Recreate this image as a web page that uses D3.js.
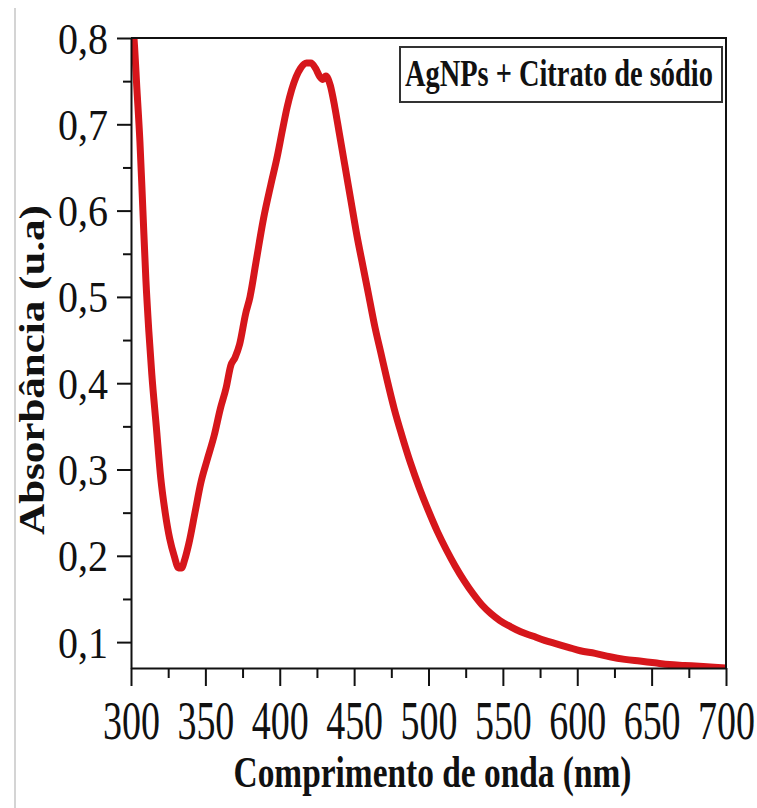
<!DOCTYPE html>
<meta charset="utf-8">
<style>
body { margin: 0; background: #fff; }
text { font-family: "Liberation Serif", "Times New Roman", serif; fill: #111; }
</style>
<body>
<script src="https://d3js.org/d3.v7.min.js"></script>
<script>

// spectrum (nm, absorbance)
var wavelength = [300, 302, 304, 306, 308, 310, 312, 314, 317, 320, 323, 326, 329, 332, 334,
    336, 339, 343, 347, 351, 356, 360, 364, 367, 370, 373, 377, 380, 384, 389, 394, 398,
    402, 405, 408, 411, 414, 418, 421, 424, 427, 429, 431, 434, 437, 440, 444, 448, 452,
    456, 460, 464, 468, 472, 477, 482, 488, 494, 500, 506, 512, 518, 524, 530, 536, 542,
    548, 555, 562, 570, 578, 586, 594, 602, 612, 622, 632, 642, 652, 662, 672, 682, 692, 700];
var absorbance = [0.83, 0.80, 0.74, 0.68, 0.60, 0.52, 0.46, 0.41, 0.35, 0.29, 0.25, 0.22, 0.20, 0.186, 0.186,
    0.195, 0.215, 0.25, 0.285, 0.31, 0.34, 0.37, 0.395, 0.42, 0.43, 0.445, 0.48, 0.50, 0.54, 0.59, 0.63, 0.66,
    0.695, 0.72, 0.74, 0.755, 0.765, 0.771, 0.771, 0.765, 0.755, 0.752, 0.756, 0.745, 0.72, 0.69, 0.65, 0.61, 0.57,
    0.535, 0.50, 0.465, 0.435, 0.405, 0.37, 0.34, 0.307, 0.278, 0.252, 0.228, 0.207, 0.188, 0.171, 0.156, 0.143, 0.133,
    0.125, 0.118, 0.112, 0.107, 0.102, 0.098, 0.094, 0.090, 0.087, 0.083, 0.080, 0.078, 0.076, 0.074, 0.073, 0.072, 0.071, 0.070];

var xTickValues = [300, 350, 400, 450, 500, 550, 600, 650, 700];
var yTickValues = [0.1, 0.2, 0.3, 0.4, 0.5, 0.6, 0.7, 0.8];
var legendLabel = "AgNPs + Citrato de sódio";
var xTitle = "Comprimento de onda (nm)";
var yTitle = "Absorbância (u.a)";

var margin = {top: 38, right: 31, bottom: 140, left: 131},
    width = 757 - margin.left - margin.right,
    height = 808 - margin.top - margin.bottom;

var x = d3.scaleLinear().domain([300, 700]).range([0, width]);
var y = d3.scaleLinear().domain([0.07, 0.8]).range([height, 0]);

var fmt = d3.formatLocale({decimal: ",", thousands: ".", grouping: [3], currency: ["", ""]}).format(".1f");

// squeeze a text horizontally so it is `w` px long; `pre` is the transform before the scale
function fit(t, w, pre) {
    var len = t.node().getComputedTextLength();
    t.attr("transform", (pre || "") + " scale(" + (w / len) + ",1)");
}

var root = d3.select("body").append("svg")
    .attr("width", 757)
    .attr("height", 808);

// faint page edge on the left
root.append("line")
    .attr("x1", 15).attr("x2", 15).attr("y1", 8).attr("y2", 808)
    .attr("stroke", "#d4d4d4").attr("stroke-width", 2);

var svg = root.append("g")
    .attr("transform", "translate(" + margin.left + "," + margin.top + ")");

svg.append("clipPath").attr("id", "plot")
    .append("rect").attr("width", width).attr("height", height);

// curve
var line = d3.line()
    .x(function(d, i) { return x(wavelength[i]); })
    .y(function(d) { return y(d); })
    .curve(d3.curveMonotoneX);

svg.append("path")
    .datum(absorbance)
    .attr("clip-path", "url(#plot)")
    .attr("fill", "none")
    .attr("stroke", "#d6161b")
    .attr("stroke-width", 7)
    .attr("stroke-linejoin", "round")
    .attr("d", line);

// minor ticks
svg.append("g")
    .attr("transform", "translate(0," + height + ")")
    .call(d3.axisBottom(x).tickValues(d3.range(325, 700, 50)).tickSize(10).tickFormat(""))
    .call(function(g) { g.select(".domain").remove(); });
svg.append("g")
    .call(d3.axisLeft(y).tickValues(d3.range(0.15, 0.8, 0.1)).tickSize(8).tickFormat(""))
    .call(function(g) { g.select(".domain").remove(); });

// x axis
var gx = svg.append("g")
    .attr("transform", "translate(0," + height + ")")
    .call(d3.axisBottom(x).tickValues(xTickValues).tickSize(18).tickSizeOuter(0));
gx.selectAll("text")
    .attr("y", 0).attr("dy", null)
    .attr("font-size", 38)
    .attr("transform", "translate(0,71) scale(1,1.45)");

// y axis
var gy = svg.append("g")
    .call(d3.axisLeft(y).tickValues(yTickValues).tickSize(14).tickSizeOuter(0).tickFormat(fmt));
gy.selectAll("text")
    .attr("x", 0).attr("dy", null)
    .attr("font-size", 40)
    .attr("transform", "translate(-23,15) scale(1,1.1)");

svg.selectAll(".domain, .tick line").attr("stroke", "#111").attr("stroke-width", 2);

// top and right frame
svg.append("path")
    .attr("d", "M0,0H" + width + "V" + height)
    .attr("fill", "none").attr("stroke", "#111").attr("stroke-width", 2);

// axis titles
var tx = svg.append("text")
    .attr("text-anchor", "middle")
    .attr("font-weight", "bold").attr("font-size", 44)
    .text(xTitle);
fit(tx, 398, "translate(" + (width / 2 + 4) + "," + (height + 119) + ")");

var ty = svg.append("text")
    .attr("text-anchor", "middle")
    .attr("font-weight", "bold").attr("font-size", 36)
    .text(yTitle);
fit(ty, 330, "translate(-87," + (370 - margin.top) + ") rotate(-90)");

// legend box
svg.append("rect")
    .attr("x", 269).attr("y", 9).attr("width", 322).attr("height", 55)
    .attr("fill", "#fff").attr("stroke", "#333").attr("stroke-width", 2);
var tl = svg.append("text")
    .attr("font-weight", "bold").attr("font-size", 37)
    .text(legendLabel);
fit(tl, 308, "translate(274,48)");

</script>
</body>
